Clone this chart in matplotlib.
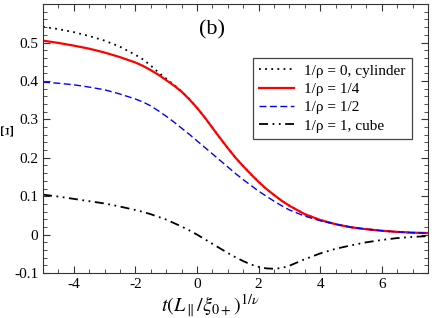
import matplotlib as mpl
mpl.use('Agg')
import matplotlib.pyplot as plt
from matplotlib.ticker import MultipleLocator

mpl.rcParams.update({'font.family': 'serif',
                     'font.serif': ['Liberation Serif', 'DejaVu Serif'],
                     'mathtext.fontset': 'stix',
                     'axes.unicode_minus': False,
                     'font.size': 11})

# common scaling variable t(L/xi)^(1/nu)
x_t = [-5, -4.5, -4, -3.5, -3, -2.5, -2, -1.75, -1.5, -1.25, -1, -0.75, -0.5, -0.25,
       0, 0.25, 0.5, 0.75, 1, 1.25, 1.5, 1.75, 2, 2.25, 2.5, 2.75, 3, 3.5, 4, 4.5,
       5, 5.5, 6, 6.5, 7, 7.5]

# cylinder, 1/rho = 0
y_cyl = [0.541, 0.535, 0.527, 0.517, 0.505, 0.489, 0.468, 0.456, 0.440, 0.422,
         0.406, 0.390, 0.373, 0.353, 0.330, 0.305, 0.278, 0.251, 0.225, 0.200,
         0.178, 0.157, 0.137, 0.119, 0.103, 0.088, 0.075, 0.053, 0.038, 0.027,
         0.019, 0.014, 0.010, 0.007, 0.005, 0.004]

# 1/rho = 1/4
y_q = [0.505, 0.499, 0.492, 0.484, 0.474, 0.462, 0.448, 0.439, 0.428, 0.416,
       0.402, 0.388, 0.372, 0.352, 0.330, 0.305, 0.278, 0.251, 0.225, 0.200,
       0.178, 0.157, 0.137, 0.119, 0.103, 0.088, 0.075, 0.053, 0.038, 0.027,
       0.019, 0.014, 0.010, 0.007, 0.005, 0.004]

# 1/rho = 1/2
y_h = [0.397, 0.394, 0.390, 0.384, 0.377, 0.366, 0.353, 0.345, 0.335, 0.322,
       0.308, 0.293, 0.277, 0.261, 0.244, 0.227, 0.210, 0.193, 0.176, 0.159,
       0.143, 0.128, 0.113, 0.100, 0.087, 0.075, 0.064, 0.048, 0.036, 0.027,
       0.019, 0.014, 0.010, 0.007, 0.005, 0.004]

# cube, 1/rho = 1
y_cube = [0.104, 0.099, 0.093, 0.087, 0.081, 0.073, 0.064, 0.059, 0.053, 0.046,
          0.039, 0.030, 0.021, 0.011, 0.000, -0.012, -0.024, -0.036, -0.048, -0.059,
          -0.069, -0.078, -0.084, -0.088, -0.089, -0.087, -0.081, -0.064, -0.049, -0.037,
          -0.028, -0.020, -0.014, -0.009, -0.006, -0.004]

labels = ['1/\u03c1 = 0, cylinder', '1/\u03c1 = 1/4', '1/\u03c1 = 1/2', '1/\u03c1 = 1, cube']


def main():
    fig = plt.figure(figsize=(4.32, 3.18), dpi=100)
    ax = fig.add_axes([0.0995, 0.1415, 0.8915, 0.8455])

    ax.plot(x_t, y_cyl, color='black', lw=1.3, linestyle=(0, (1, 2.4)), label=labels[0])
    ax.plot(x_t, y_q, color='red', lw=1.6, label=labels[1])
    ax.plot(x_t, y_h, color='blue', lw=1.0, linestyle=(0, (5, 2.5)), label=labels[2])
    ax.plot(x_t, y_cube, color='black', lw=1.3,
            linestyle=(0, (5, 2.5, 1, 2.5, 1, 2.5)), label=labels[3])

    ax.set_xlim(-5, 7.5)
    ax.set_ylim(-0.1, 0.6)
    ax.set_xticks([-4, -2, 0, 2, 4, 6])
    ax.set_yticks([-0.1, 0, 0.1, 0.2, 0.3, 0.4, 0.5])
    ax.set_yticklabels(['-0.1', '0', '0.1', '0.2', '0.3', '0.4', '0.5'])
    ax.xaxis.set_minor_locator(MultipleLocator(0.5))
    ax.yaxis.set_minor_locator(MultipleLocator(0.02))
    ax.tick_params(which='both', direction='in', top=True, right=True,
                   labelsize=11, color='#333333')
    ax.tick_params(which='major', length=5)
    ax.tick_params(which='minor', length=3)
    for sp in ax.spines.values():
        sp.set_color('#333333')

    # axis labels placed by hand, as in the original figure
    fig.text(0.486, 0.038, r'$t(L_\parallel/\xi_{0+})^{1/\nu}$', fontsize=14.5,
             ha='center', va='center')
    fig.text(0.021, 0.591, r'$\Xi$', fontsize=13, rotation=90,
             ha='center', va='center')

    ax.text(0.48, 0.534, '(b)', fontsize=16, ha='center', va='center')

    leg = ax.legend(loc='upper right', bbox_to_anchor=(0.958, 0.80), fontsize=11,
                    handlelength=2.3, fancybox=False, framealpha=1,
                    borderaxespad=0, borderpad=0.4, labelspacing=0.3,
                    handletextpad=0.7)
    leg.get_frame().set_edgecolor('#444444')
    leg.get_frame().set_linewidth(0.9)

    fig.savefig('out.png', dpi=100)
    plt.close(fig)


if __name__ == "__main__":
    main()
